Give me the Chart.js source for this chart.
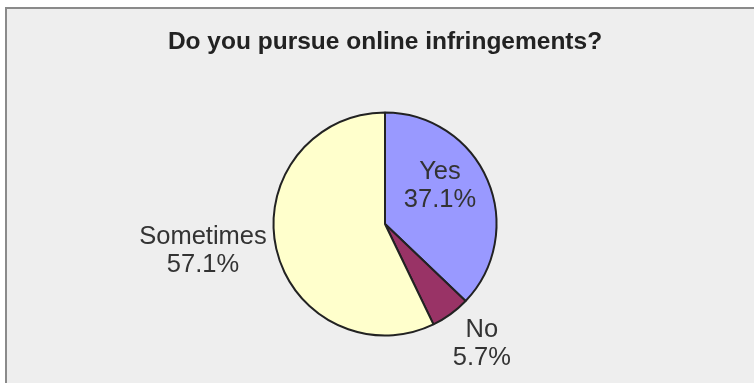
<!DOCTYPE html>
<html>
<head>
<meta charset="utf-8">
<script src="https://cdn.jsdelivr.net/npm/chart.js@4/dist/chart.umd.min.js"></script>
<style>
  html, body { margin: 0; padding: 0; background: #ffffff; overflow: hidden; }
  #wrap { position: relative; width: 754px; height: 383px; }
  #frame {
    position: absolute; left: 5px; top: 7px; width: 800px; height: 420px;
    background: #eeeeee; border: 2px solid #8a8a8a; box-sizing: border-box;
  }
  #pieChart { position: absolute; left: 0; top: 0; }
</style>
</head>
<body>
<div id="wrap">
  <div id="frame"></div>
  <canvas id="pieChart" width="754" height="383"></canvas>
</div>
<script>
const answers = ['Yes', 'No', 'Sometimes'];
const shares = [37.1, 5.7, 57.1];
const sliceColors = ['#9999ff', '#993366', '#ffffcc'];

// where each answer label sits: fraction of the radius and a turn (degrees) off the slice middle
const labelPlacement = [
  { dist: 0.6, turn: -11.6 },
  { dist: 1.38, turn: -3 },
  { dist: 1.65, turn: 4.5 }
];

const sliceLabels = {
  id: 'sliceLabels',
  afterDatasetsDraw(chart) {
    const ctx = chart.ctx;
    const arcs = chart.getDatasetMeta(0).data;
    ctx.save();
    ctx.font = '25.5px "Liberation Sans", Arial, sans-serif';
    ctx.fillStyle = '#333333';
    ctx.textAlign = 'center';
    ctx.textBaseline = 'middle';
    arcs.forEach((arc, i) => {
      const p = arc.getProps(['x', 'y', 'startAngle', 'endAngle', 'outerRadius'], true);
      const place = labelPlacement[i];
      const a = (p.startAngle + p.endAngle) / 2 + place.turn * Math.PI / 180;
      const r = p.outerRadius * place.dist;
      const cx = p.x + Math.cos(a) * r;
      const cy = p.y + Math.sin(a) * r;
      ctx.fillText(answers[i], cx, cy - 14);
      ctx.fillText(shares[i].toFixed(1) + '%', cx, cy + 14);
    });
    ctx.restore();
  }
};

new Chart(document.getElementById('pieChart'), {
  type: 'pie',
  data: {
    labels: answers,
    datasets: [{
      data: shares,
      backgroundColor: sliceColors,
      borderColor: '#222222',
      borderWidth: 2,
      radius: 111.5
    }]
  },
  options: {
    responsive: false,
    animation: false,
    layout: { padding: { left: 16, right: 0, top: 0, bottom: 0 } },
    plugins: {
      legend: { display: false },
      tooltip: { enabled: false },
      title: {
        display: true,
        text: 'Do you pursue online infringements?',
        color: '#222222',
        font: { family: '"Liberation Sans", Arial, sans-serif', size: 24.5, weight: 'bold', lineHeight: 1.2 },
        padding: { top: 28, bottom: 7.6 }
      }
    }
  },
  plugins: [sliceLabels]
});
</script>
</body>
</html>
